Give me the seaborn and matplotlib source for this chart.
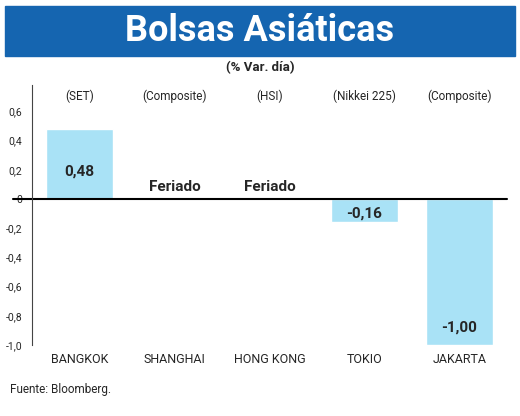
import matplotlib
matplotlib.use("Agg")
import matplotlib.pyplot as plt
import seaborn as sns
import pandas as pd
from matplotlib.patches import Rectangle

categories = ["BANGKOK", "SHANGHAI", "HONG KONG", "TOKIO", "JAKARTA"]
indices = ["(SET)", "(Composite)", "(HSI)", "(Nikkei 225)", "(Composite)"]
values = [0.48, 0.0, 0.0, -0.16, -1.00]
labels = ["0,48", "Feriado", "Feriado", "-0,16", "-1,00"]
label_y = [0.19, 0.08, 0.08, -0.10, -0.88]
ticks = [0.6, 0.4, 0.2, 0, -0.2, -0.4, -0.6, -0.8, -1.0]
tick_labels = ["0,6", "0,4", "0,2", "0", "-0,2", "-0,4", "-0,6", "-0,8", "-1,0"]

sns.set_style("white")
plt.rcParams['font.family'] = ['Roboto', 'DejaVu Sans']

fig = plt.figure(figsize=(5.2, 4.16), dpi=100)
fig.patches.append(Rectangle((5/520, 1-56/416), 510/520, 50/416, transform=fig.transFigure,
                             color="#1565b0", zorder=0))
fig.text(0.5, 1-31/416, "Bolsas Asiáticas", ha="center", va="center", color="white",
         fontsize=26, fontweight="bold")
fig.text(0.5, 1-68/416, "(% Var. día)", ha="center", va="center", fontsize=9.5, fontweight="bold")
fig.text(10/520, 1-389/416, "Fuente: Bloomberg.", ha="left", va="center", fontsize=8.5)

ax = fig.add_axes([32/520, 1-345/416, 475/520, 260/416])
df = pd.DataFrame({"cat": categories, "val": values})
sns.barplot(data=df, x="cat", y="val", color="#a9e2f6", saturation=1, width=0.7, ax=ax)
ax.set_ylim(-1.0, 0.78)
ax.set_xlim(-0.5, 4.5)
ax.set_yticks(ticks)
ax.set_yticklabels(tick_labels, fontsize=7.5)
ax.tick_params(axis="x", labelsize=9, length=0, pad=6)
ax.set_xlabel(""); ax.set_ylabel("")
for s in ["top", "right", "bottom"]:
    ax.spines[s].set_visible(False)
ax.spines["left"].set_color("#444")
ax.axhline(0, color="black", lw=1.5, xmin=-0.04, clip_on=False)
for i, (lab, ly, ix) in enumerate(zip(labels, label_y, indices)):
    ax.text(i, ly, lab, ha="center", va="center", fontsize=11, fontweight="bold")
    ax.text(i, 0.70, ix, ha="center", va="center", fontsize=8.5)

fig.savefig("out.png", dpi=100)
